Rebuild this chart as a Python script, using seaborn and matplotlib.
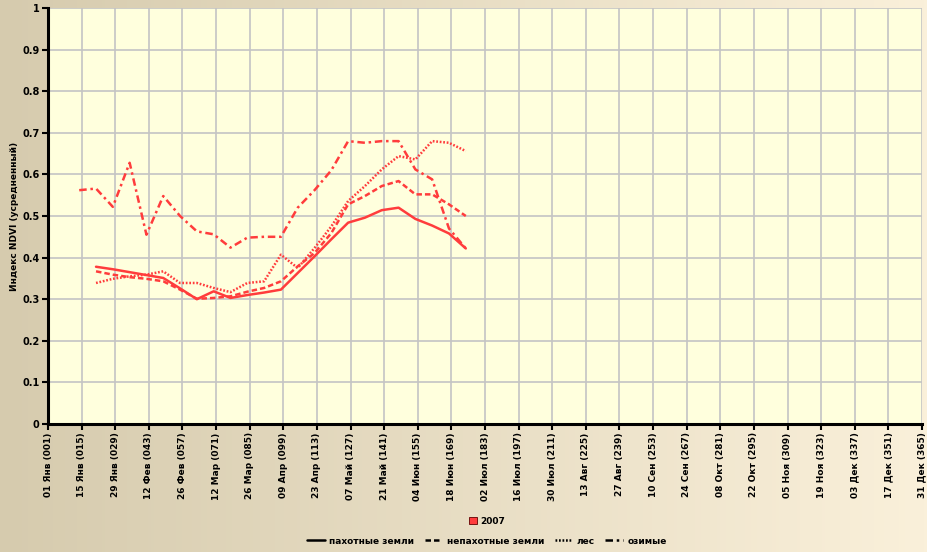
import numpy as np
import pandas as pd
import seaborn as sns
import matplotlib.pyplot as plt
from matplotlib.lines import Line2D
from matplotlib.patches import Patch

# day of year for each 7-day point
days = [14, 21, 28, 35, 42, 49, 56, 63, 70, 77, 84, 91, 98, 105,
        112, 119, 126, 133, 140, 147, 154, 161, 168, 175]

# NDVI per land type (2007)
ozimye = [0.562, 0.566, 0.522, 0.628, 0.455, 0.548, 0.500, 0.463, 0.456, 0.424,
          0.448, 0.450, 0.450, 0.520, 0.562, 0.610, 0.680, 0.676, 0.680, 0.680,
          0.612, 0.588, 0.470, 0.422]
nepahotnye = [0.367, 0.359, 0.353, 0.349, 0.343, 0.323, 0.301, 0.303, 0.307,
              0.318, 0.327, 0.343, 0.379, 0.411, 0.459, 0.528, 0.548, 0.572,
              0.584, 0.552, 0.552, 0.528, 0.500]
les = [0.339, 0.349, 0.355, 0.359, 0.367, 0.339, 0.339, 0.327, 0.317, 0.339,
       0.343, 0.407, 0.375, 0.423, 0.475, 0.536, 0.572, 0.612, 0.644, 0.636,
       0.680, 0.676, 0.656]
pahotnye = [0.378, 0.372, 0.365, 0.358, 0.351, 0.326, 0.300, 0.319, 0.303,
            0.310, 0.316, 0.323, 0.363, 0.403, 0.444, 0.484, 0.496, 0.514,
            0.520, 0.493, 0.477, 0.458, 0.422]

tick_days = [1, 15, 29, 43, 57, 71, 85, 99, 113, 127, 141, 155, 169, 183,
             197, 211, 225, 239, 253, 267, 281, 295, 309, 323, 337, 351, 365]
tick_labels = ["01 Янв (001)", "15 Янв (015)", "29 Янв (029)", "12 Фев (043)",
               "26 Фев (057)", "12 Мар (071)", "26 Мар (085)", "09 Апр (099)",
               "23 Апр (113)", "07 Май (127)", "21 Май (141)", "04 Июн (155)",
               "18 Июн (169)", "02 Июл (183)", "16 Июл (197)", "30 Июл (211)",
               "13 Авг (225)", "27 Авг (239)", "10 Сен (253)", "24 Сен (267)",
               "08 Окт (281)", "22 Окт (295)", "05 Ноя (309)", "19 Ноя (323)",
               "03 Дек (337)", "17 Дек (351)", "31 Дек (365)"]

names = ["пахотные земли", "непахотные земли", "лес", "озимые"]

frames = []
for name, vals in zip(names, [pahotnye, nepahotnye, les, ozimye]):
    d = days[-len(vals):]
    frames.append(pd.DataFrame({"day": d, "ndvi": vals, "type": name}))
df = pd.concat(frames, ignore_index=True)

sns.set_style("white")
plt.rcParams['font.family'] = ['DejaVu Sans']
plt.rcParams.update({"text.color": "black", "axes.labelcolor": "black",
                     "xtick.color": "black", "ytick.color": "black"})

red = "#ff3c3c"
dashes = {"пахотные земли": "",
          "непахотные земли": (2.2, 1.2),
          "лес": (0.7, 0.7),
          "озимые": (3.0, 1.5, 1.0, 1.5)}

fig = plt.figure(figsize=(9.27, 5.52), dpi=100)

# background gradient
bg = fig.add_axes([0, 0, 1, 1], zorder=0)
left_c = np.array([214, 203, 174]) / 255
right_c = np.array([250, 240, 218]) / 255
t = np.linspace(0, 1, 300)[None, :, None]
grad = left_c * (1 - t) + right_c * t
bg.imshow(grad, aspect="auto", extent=[0, 1, 0, 1])
bg.axis("off")

ax = fig.add_axes([48 / 927, 1 - 424 / 552, (922 - 48) / 927, (424 - 8) / 552], zorder=1)
ax.set_facecolor("#ffffdd")

sns.lineplot(data=df, x="day", y="ndvi", style="type", dashes=dashes,
             color=red, linewidth=1.8, legend=False, ax=ax)

ax.set_xlim(1, 365)
ax.set_ylim(0, 1)
ax.set_xticks(tick_days)
ax.set_xticklabels(tick_labels, rotation=90, fontsize=6.5, fontweight="bold")
ax.set_yticks(np.arange(0, 1.01, 0.1))
ax.set_yticklabels(["0", "0.1", "0.2", "0.3", "0.4", "0.5", "0.6", "0.7",
                    "0.8", "0.9", "1"], fontsize=7, fontweight="bold")
ax.grid(True, color="#c4c4c4", linewidth=1.2)
ax.set_axisbelow(True)
ax.tick_params(axis="both", direction="out", length=4, width=1.5, color="black",
               pad=2, bottom=True, left=True)
for s in ["top", "right"]:
    ax.spines[s].set_visible(False)
for s in ["left", "bottom"]:
    ax.spines[s].set_color("black")
    ax.spines[s].set_linewidth(2.2)

ax.set_xlabel("")
ax.set_ylabel("Индекс NDVI (усредненный)", fontsize=6.5, fontweight="bold")
ax.yaxis.set_label_coords(-29 / 874, 0.5)

year_handle = [Patch(facecolor=red, edgecolor="#600000", linewidth=0.6)]
fig.legend(year_handle, ["2007"], loc="center", bbox_to_anchor=(487 / 927, 1 - 521 / 552),
           frameon=False, prop={"weight": "bold", "size": 6.5},
           handlelength=0.9, handleheight=0.9, handletextpad=0.3)

style_handles = [Line2D([], [], color="black", linewidth=1.8, linestyle="-"),
                 Line2D([], [], color="black", linewidth=1.8, dashes=(2.2, 1.2)),
                 Line2D([], [], color="black", linewidth=1.8, dashes=(0.7, 0.7)),
                 Line2D([], [], color="black", linewidth=1.8, dashes=(3.0, 1.5, 1.0, 1.5))]
fig.legend(style_handles, names, loc="center", bbox_to_anchor=(487 / 927, 1 - 541 / 552),
           ncol=4, frameon=False, prop={"weight": "bold", "size": 6.5},
           handlelength=1.9, handletextpad=0.5, columnspacing=1.2)

fig.savefig("out.png", dpi=100)
plt.close(fig)
